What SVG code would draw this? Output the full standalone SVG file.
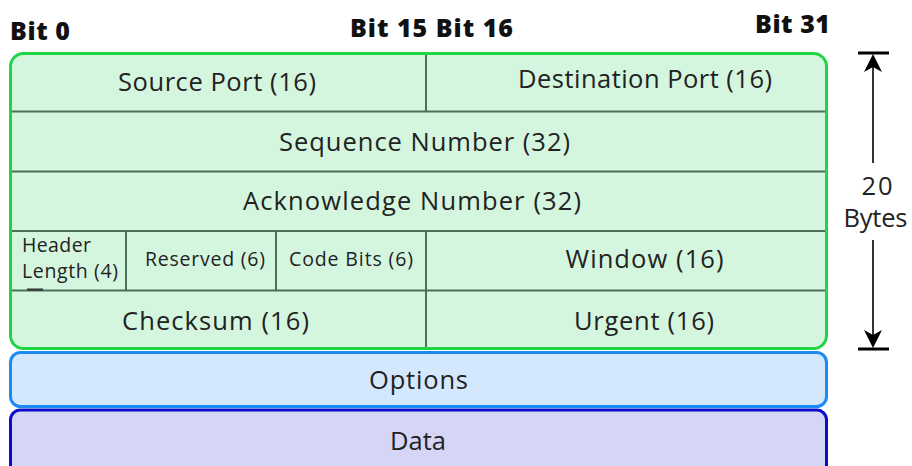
<svg xmlns="http://www.w3.org/2000/svg" width="912" height="466" viewBox="0 0 912 466">
  <defs>
    <style>
      .field { font-family: "Open Sans", "Noto Sans", sans-serif; font-size: 25.5px; fill: #222; text-anchor: middle; }
      .small { font-family: "Open Sans", "Noto Sans", sans-serif; font-size: 19.5px; fill: #222; }
      .smallc { font-family: "Open Sans", "Noto Sans", sans-serif; font-size: 19.5px; fill: #222; text-anchor: middle; }
      .bit { font-family: "Open Sans", "Noto Sans", sans-serif; font-size: 25px; font-weight: 800; fill: #111; }
      .div { stroke: #4c6f58; stroke-width: 2; fill: none; }
      .dim { stroke: #000; stroke-width: 1.6; fill: none; }
      .bar { stroke: #000; stroke-width: 3; }
      .head { fill: #000; }
    </style>
  </defs>

  <rect width="912" height="466" fill="#ffffff"/>

  <!-- bit position labels -->
  <g id="bit-labels">
    <text class="bit" x="10" y="40" textLength="60">Bit 0</text>
    <text class="bit" x="350" y="37" textLength="163">Bit 15 Bit 16</text>
    <text class="bit" x="755" y="33" textLength="75">Bit 31</text>
  </g>

  <!-- TCP header block (20 bytes) -->
  <g id="header">
    <rect x="10.5" y="53.5" width="816" height="295" rx="13" fill="#d5f6de" stroke="#1fd445" stroke-width="3"/>
  </g>

  <!-- row and column dividers -->
  <g id="dividers">
    <line class="div" x1="12" y1="111.5" x2="825" y2="111.5"/>
    <line class="div" x1="12" y1="171.5" x2="825" y2="171.5"/>
    <line class="div" x1="12" y1="231" x2="825" y2="231"/>
    <line class="div" x1="12" y1="290.5" x2="825" y2="290.5"/>
    <line class="div" x1="426" y1="55" x2="426" y2="111.5"/>
    <line class="div" x1="126" y1="231" x2="126" y2="290.5"/>
    <line class="div" x1="276" y1="231" x2="276" y2="290.5"/>
    <line class="div" x1="426" y1="231" x2="426" y2="347"/>
    <line stroke="#333" stroke-width="2" x1="27" y1="289.5" x2="43" y2="289.5"/>
  </g>

  <g id="source-port"><text class="field" x="217" y="90.5" textLength="198">Source Port (16)</text></g>
  <g id="destination-port"><text class="field" x="645" y="87.5" textLength="254">Destination Port (16)</text></g>
  <g id="sequence-number"><text class="field" x="424.5" y="150.5" textLength="291">Sequence Number (32)</text></g>
  <g id="acknowledge-number"><text class="field" x="412" y="209.5" textLength="338">Acknowledge Number (32)</text></g>
  <g id="header-length">
    <text class="small" x="22" y="252" textLength="69">Header</text>
    <text class="small" x="22" y="278" textLength="96">Length (4)</text>
  </g>
  <g id="reserved"><text class="smallc" x="205" y="265.5" textLength="120">Reserved (6)</text></g>
  <g id="code-bits"><text class="smallc" x="351" y="265.5" textLength="124">Code Bits (6)</text></g>
  <g id="window"><text class="field" x="644.5" y="268" textLength="158">Window (16)</text></g>
  <g id="checksum"><text class="field" x="215.5" y="330" textLength="187">Checksum (16)</text></g>
  <g id="urgent"><text class="field" x="644" y="330" textLength="140">Urgent (16)</text></g>

  <!-- options and payload -->
  <g id="options">
    <rect x="10.5" y="352.5" width="816" height="54" rx="10" fill="#d4e8fd" stroke="#1b8af2" stroke-width="3"/>
    <text class="field" x="418.5" y="389" textLength="99">Options</text>
  </g>
  <g id="data">
    <rect x="10.5" y="410" width="816" height="70" rx="10" fill="#d5d5f6" stroke="#0b0bcc" stroke-width="3"/>
    <text class="field" x="418" y="450" textLength="56">Data</text>
  </g>

  <!-- size dimension -->
  <g id="connectors">
    <line class="bar" x1="858" y1="53" x2="889" y2="53"/>
    <line class="bar" x1="858" y1="349" x2="889" y2="349"/>
    <line class="dim" x1="873" y1="66" x2="873" y2="163"/>
    <line class="dim" x1="873" y1="240" x2="873" y2="336"/>
    <path class="head" d="M873 54 L882 72 L873 67 L864 72 Z"/>
    <path class="head" d="M873 348 L882 330 L873 335 L864 330 Z"/>
  </g>
  <g id="size-label">
    <text class="field" x="877" y="195" textLength="31">20</text>
    <text class="field" x="875.5" y="227" textLength="64">Bytes</text>
  </g>
</svg>
